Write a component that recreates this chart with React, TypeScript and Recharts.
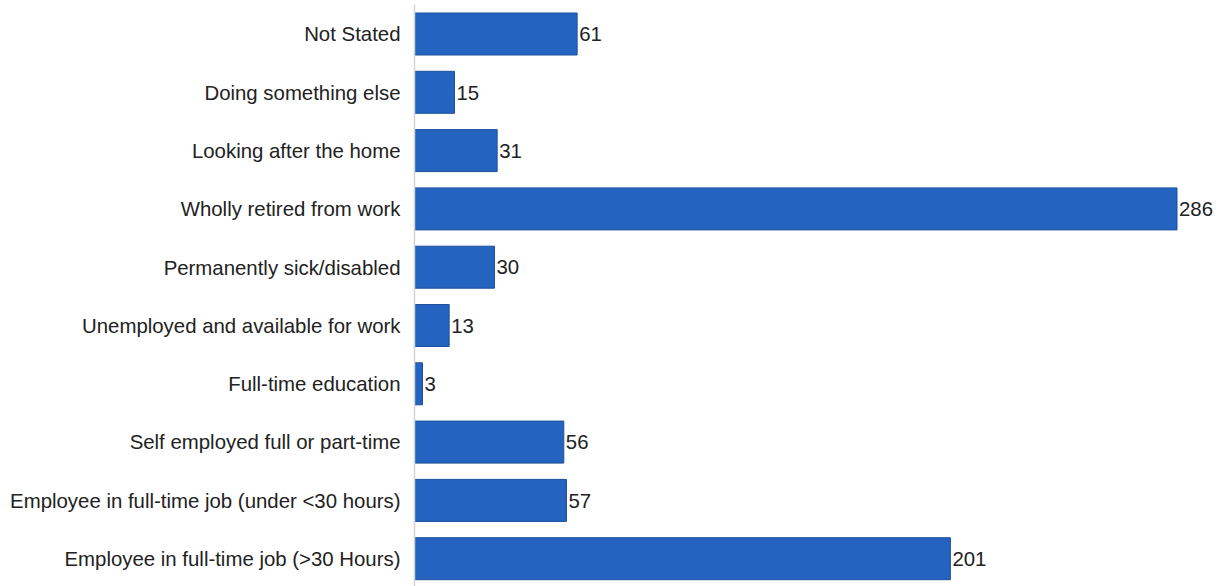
import { Bar, BarChart, XAxis, YAxis, LabelList } from "recharts"

const categories = [
  "Not Stated",
  "Doing something else",
  "Looking after the home",
  "Wholly retired from work",
  "Permanently sick/disabled",
  "Unemployed and available for work",
  "Full-time education",
  "Self employed full or part-time",
  "Employee in full-time job (under <30 hours)",
  "Employee in full-time job (>30 Hours)",
]

const counts = [61, 15, 31, 286, 30, 13, 3, 56, 57, 201]

const data = categories.map((name, i) => ({ name, value: counts[i] }))

const FONT = "'Liberation Sans', Arial, sans-serif"

export default function App() {
  return (
    <div style={{ position: "absolute", left: 0, top: 0, background: "#fff" }}>
      <BarChart
        width={1223}
        height={590}
        data={data}
        layout="vertical"
        margin={{ top: 5, right: 46, bottom: 2, left: 0 }}
      >
        <XAxis type="number" domain={[0, 286]} hide />
        <YAxis
          type="category"
          dataKey="name"
          width={414.5}
          tickLine={false}
          axisLine={{ stroke: "#d4d4d4", strokeWidth: 1.5 }}
          tickMargin={8}
          interval={0}
          tick={{ fill: "#222", fontSize: 20.4, fontFamily: FONT }}
        />
        <Bar
          dataKey="value"
          fill="#2563c0"
          stroke="#1d4f9c"
          strokeWidth={1}
          barSize={42}
          isAnimationActive={false}
        >
          <LabelList
            dataKey="value"
            position="right"
            offset={2}
            style={{ fill: "#222", fontSize: 20.4, fontFamily: FONT }}
          />
        </Bar>
      </BarChart>
    </div>
  )
}
